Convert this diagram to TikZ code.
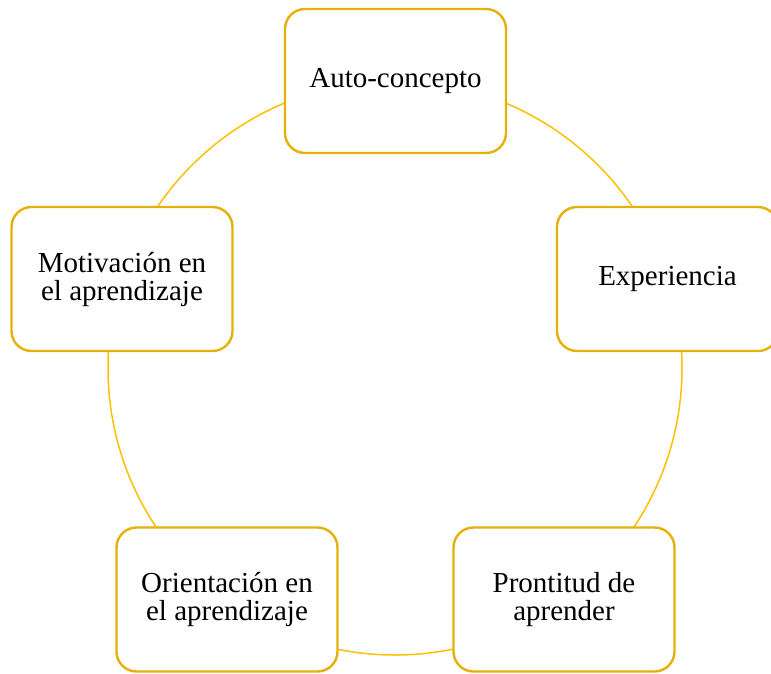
\documentclass[tikz,border=0pt]{standalone}
\usepackage{fontspec}
\setmainfont{Liberation Serif}
\definecolor{boxgold}{RGB}{230,176,10}
\definecolor{ringgold}{RGB}{255,192,0}
\begin{document}
\begin{tikzpicture}[x=1pt,y=-1pt,
  cyclebox/.style={draw=boxgold, line width=2.4pt, fill=white, rounded corners=20pt,
    minimum width=221pt, minimum height=144pt, inner sep=0pt,
    align=center, font=\fontsize{29}{28}\selectfont, text=black},
  ring/.style={draw=ringgold, line width=1.5pt}]
\useasboundingbox (0,0) rectangle (771,673);
\coordinate (c) at (395,368);
\draw[ring] (c) circle[radius=287];
\node[cyclebox] (auto) at (395.5,81) {Auto-concepto};
\node[cyclebox] (exp) at (667.5,279) {Experiencia};
\node[cyclebox] (pron) at (564,599.5) {Prontitud de\\aprender};
\node[cyclebox] (orie) at (227,599.5) {Orientación en\\el aprendizaje};
\node[cyclebox] (moti) at (122,279) {Motivación en\\el aprendizaje};
\end{tikzpicture}
\end{document}
